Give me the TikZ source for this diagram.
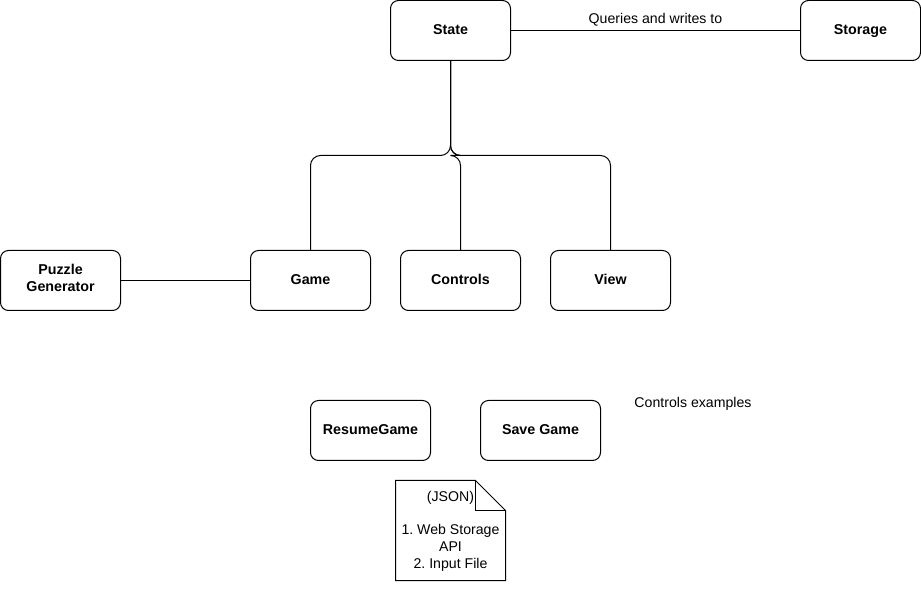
\documentclass[tikz,border=0pt]{standalone}
\usepackage{fontspec}
\setmainfont{Liberation Sans}
\frenchspacing
\begin{document}
\begin{tikzpicture}[x=0.75pt,y=-0.75pt,
  box/.style={draw, line width=0.75pt, rounded corners=6pt, minimum width=90pt, minimum height=45pt, align=center, font=\bfseries\fontsize{10.7}{12.5}\selectfont, inner sep=0pt, text height=7.7pt, text depth=1.6pt},
  wire/.style={draw, line width=0.75pt, rounded corners=7.5pt},
  lbl/.style={font=\fontsize{10.6}{12.6}\selectfont, align=center, inner sep=0pt}]
\useasboundingbox (0,0) rectangle (921,605);
\node[box] (state) at (450.5,30.5) {State};
\node[box] (storage) at (860.5,30.5) {Storage};
\node[box, text height=, text depth=, execute at begin node=\strut] (puzzle) at (60.5,280.5) {Puzzle\\Generator};
\node[box] (game) at (310.5,280.5) {Game};
\node[box] (controls) at (460.5,280.5) {Controls};
\node[box] (view) at (610.5,280.5) {View};
\node[box] (resume) at (370.5,430.5) {ResumeGame};
\node[box] (save) at (540.5,430.5) {Save Game};
\node[lbl] (ctrlex) at (693,403.5) {Controls examples};
\draw[line width=0.75pt] (state) -- node[lbl, above=3pt] (q) {Queries and writes to} (storage);
\draw[line width=0.75pt] (puzzle) -- (game);
\draw[wire] (state.south) -- (450.5,155.5) -| (game.north);
\draw[wire] (state.south) -- (450.5,155.5) -| (controls.north);
\draw[wire] (state.south) -- (450.5,155.5) -| (view.north);
% note
\coordinate (n1) at (395.5,480.5);
\coordinate (n2) at (475.5,480.5);
\coordinate (n3) at (505.5,510.5);
\coordinate (n4) at (505.5,580.5);
\coordinate (n5) at (395.5,580.5);
\draw[line width=0.75pt] (n1) -- (n2) -- (n3) -- (n4) -- (n5) -- cycle;
\draw[line width=0.75pt] (n2) -- (475.5,510.5) -- (n3);
\node[lbl] (note) at (450.5,531) {(JSON)\\[12.6pt]1. Web Storage\\API\\2. Input File};
\end{tikzpicture}
\end{document}
